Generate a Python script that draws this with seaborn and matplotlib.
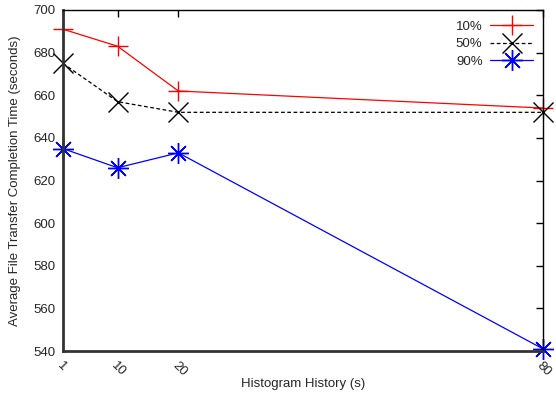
import matplotlib
matplotlib.use("Agg")
import matplotlib.pyplot as plt
import seaborn as sns
import pandas as pd

history = [1, 10, 20, 80]
p10 = [691, 683, 662, 654]
p50 = [675, 657, 652, 652]
p90 = [635, 626, 633, 541]
series_names = ["10%", "50%", "90%"]
xtick_labels = ["1", "10", "20", "80"]
yticks = [540, 560, 580, 600, 620, 640, 660, 680, 700]

sns.set_theme(style="white")
plt.rcParams['font.family'] = ['Liberation Sans', 'DejaVu Sans']

fig, ax = plt.subplots(figsize=(5.56, 3.99), dpi=100)
fig.subplots_adjust(left=0.113, right=0.977, top=0.975, bottom=0.12)

styles = [
    dict(color="#ff0000", marker="+", ls="-"),
    dict(color="#000000", marker="x", ls=(0, (3, 2))),
    dict(color="#0000ff", marker=(8, 2, 0), ls="-"),
]
for name, vals, st in zip(series_names, [p10, p50, p90], styles):
    df = pd.DataFrame({"x": history, "y": vals})
    sns.lineplot(data=df, x="x", y="y", ax=ax, color=st["color"], marker=st["marker"],
                 markersize=15, markeredgewidth=1.0, markeredgecolor=st["color"],
                 markerfacecolor=st["color"], linewidth=0.9, label=name,
                 clip_on=False)
    ax.lines[-1].set_linestyle(st["ls"])

ax.set_xlim(1, 80)
ax.set_ylim(540, 700)
ax.set_xticks(history)
ax.set_xticklabels(xtick_labels, rotation=-45, ha="left", va="top", rotation_mode="anchor")
ax.set_yticks(yticks)
ax.tick_params(axis="both", direction="in", length=5, width=1, labelsize=9.5, color="black",
               top=True, right=True, pad=5)
ax.tick_params(axis="x", pad=6)
ax.set_xlabel("Histogram History (s)", fontsize=9.5, labelpad=0)
ax.set_ylabel("Average File Transfer Completion Time (seconds)", fontsize=9.5, labelpad=9)

for s in ["left", "bottom"]:
    ax.spines[s].set_linewidth(2)
    ax.spines[s].set_color("#333333")
for s in ["top", "right"]:
    ax.spines[s].set_linewidth(1)
    ax.spines[s].set_color("black")

leg = ax.legend(loc="upper right", frameon=False, markerfirst=False, fontsize=9.5,
                handlelength=3.2, labelspacing=0.4, borderaxespad=0.4, handletextpad=0.6)
for h, st in zip(leg.get_lines(), styles):
    h.set_linestyle(st["ls"])
    h.set_markeredgecolor(st["color"])
    h.set_markerfacecolor(st["color"])

fig.savefig("out.png", dpi=100)
